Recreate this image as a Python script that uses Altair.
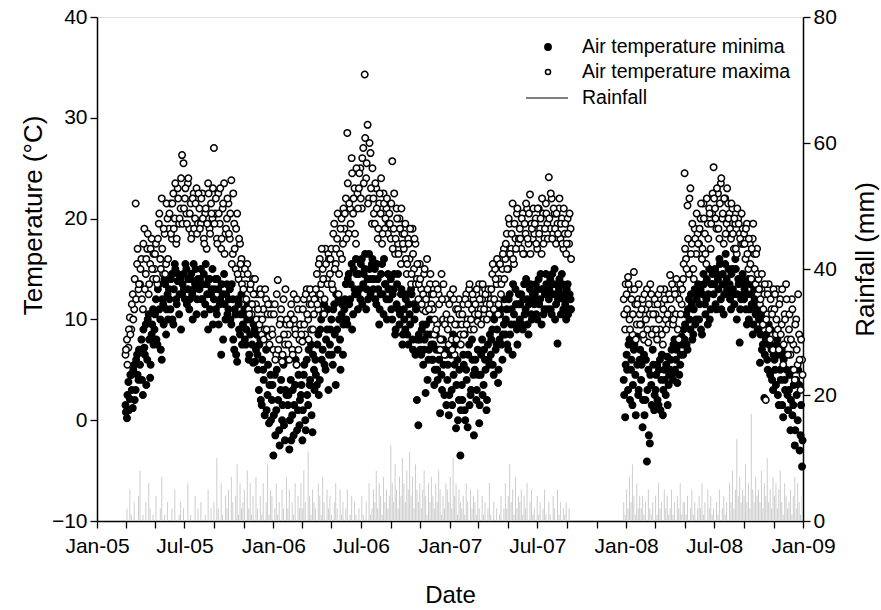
import altair as alt
import pandas as pd

# ---------------- data ----------------
# two interleaved 3-day grids per period
start_a = "2005-03-01"
start_a2 = "2005-03-02"
start_b = "2007-12-27"
start_b2 = "2007-12-28"

tmin_a = [
    1.5, 0.2, 3.8, 2.1, 4.5, 1.2, 5.5, 3.0, 6.5, 4.0,                 # Mar-05
    5.5, 8.0, 2.5, 7.2, 9.5, 6.0, 10.5, 4.2, 8.5, 11.0,               # Apr-05
    9.0, 12.0, 7.5, 13.5, 10.0, 6.0, 11.5, 14.0, 8.5, 12.5,           # May-05
    13.0, 11.0, 14.5, 9.5, 15.5, 12.0, 13.8, 10.5, 14.0, 12.5,        # Jun-05
    14.5, 12.0, 15.0, 13.0, 11.0, 14.0, 12.5, 15.5, 13.5, 10.5, 14.0, # Jul-05
    13.0, 15.0, 12.0, 14.5, 11.5, 13.5, 9.0, 14.0, 12.5, 15.0,        # Aug-05
    12.0, 14.0, 10.5, 13.0, 11.5, 6.5, 12.5, 14.5, 10.0, 13.5,        # Sep-05
    11.0, 13.0, 9.5, 12.0, 7.0, 10.5, 5.8, 11.5, 8.5, 12.5,           # Oct-05
    9.5, 11.0, 7.5, 10.0, 6.0, 8.5, 11.5, 5.7, 9.0, 7.0,              # Nov-05
    6.5, 3.0, 8.0, 1.5, 5.0, 0.5, 7.0, 2.5, -0.3, 4.5,                # Dec-05
    2.0, -3.5, 4.5, 1.0, 6.5, -1.0, 3.0, 0.0, 5.5, -2.0, 2.5,         # Jan-06
    1.5, -2.9, 4.0, 0.5, -1.5, 3.5, 5.5, 1.0, -0.5,                   # Feb-06
    2.5, -2.0, 4.5, 0.0, 6.0, 1.5, 3.5, 7.5, -1.2, 5.0,               # Mar-06
    6.0, 3.5, 8.5, 4.0, 10.0, 7.0, 11.5, 5.0, 9.0, 3.0,               # Apr-06
    7.5, 10.0, 5.5, 11.5, 3.5, 9.0, 12.0, 8.0, 10.5, 6.5,             # May-06
    11.0, 13.5, 9.5, 14.5, 12.0, 15.5, 10.5, 13.0, 16.0, 12.5,        # Jun-06
    14.5, 12.0, 16.0, 13.5, 15.0, 11.0, 14.0, 16.5, 12.5, 15.5,       # Jul-06
    13.0, 15.0, 11.5, 14.0, 9.5, 12.5, 15.5, 10.5, 13.5, 12.0, 14.5,  # Aug-06
    12.0, 14.0, 10.0, 13.0, 8.5, 11.5, 14.5, 9.5, 12.5, 7.5,          # Sep-06
    11.0, 9.0, 12.5, 7.5, 10.5, 13.0, 8.0, 11.5, 6.5, 2.0,            # Oct-06
    -0.5, 8.0, 6.5, 9.5, 7.0, 2.7, 8.5, 6.0, 10.0, 7.5,               # Nov-06
    6.0, 3.5, 8.5, 5.0, 7.0, 0.7, 4.5, 8.0, 2.5, 6.5,                 # Dec-06
    4.0, 0.5, 7.0, 3.0, 8.5, 5.5, -0.8, 6.0, 2.0, -3.5,               # Jan-07
    3.5, 6.5, 1.0, 5.0, -0.7, 7.5, 2.5, 8.0, 4.5,                     # Feb-07
    5.0, 2.0, 7.0, -0.3, 4.5, 8.0, 3.5, 6.0, 1.0, 7.5, 5.5,           # Mar-07
    6.5, 9.0, 4.5, 10.5, 7.5, 3.7, 8.0, 11.0, 6.0, 9.5,               # Apr-07
    8.5, 11.0, 7.0, 12.5, 9.5, 6.5, 10.5, 13.0, 9.0, 11.5,            # May-07
    10.0, 12.5, 9.0, 13.5, 11.0, 12.0, 8.5, 13.0, 10.5, 12.5,         # Jun-07
    11.5, 13.5, 10.0, 14.0, 12.0, 9.5, 13.0, 11.0, 14.5, 12.5,        # Jul-07
    12.0, 14.0, 10.5, 13.5, 15.0, 11.5, 7.6, 13.0, 12.5, 14.5, 11.0,  # Aug-07
    12.5, 10.0, 13.5, 11.0, 12.0,                                     # Sep-07
]
tmin_a2 = [
    0.8, 2.5, 1.0, 4.5, 3.0, 5.0, 2.0, 6.0, 4.5, 7.0,
    7.0, 4.0, 9.0, 6.5, 3.5, 10.0, 8.0, 5.5, 9.5, 7.5,
    10.5, 8.0, 13.0, 11.0, 7.0, 12.0, 9.5, 13.5, 11.0, 10.0,
    12.0, 14.0, 10.0, 13.0, 15.0, 11.5, 14.5, 12.5, 9.0, 13.5,
    13.0, 15.5, 11.5, 14.0, 12.0, 14.5, 10.0, 13.0, 15.0, 12.0, 13.5,
    14.0, 12.0, 13.5, 10.5, 15.5, 12.5, 14.0, 11.0, 13.0, 9.5,
    13.0, 11.0, 14.0, 9.5, 12.0, 13.5, 8.0, 11.5, 12.5, 10.5,
    12.0, 10.0, 13.5, 8.0, 11.0, 6.5, 12.0, 9.0, 10.5, 7.5,
    10.5, 8.0, 9.0, 11.5, 6.5, 10.0, 7.5, 9.5, 5.8, 8.5,
    5.0, 7.5, 2.0, 6.0, 4.0, 8.5, 1.0, 5.5, 3.5, 0.0,
    3.5, 0.5, -1.5, 5.0, 2.0, -2.5, 4.0, 1.5, -0.5, 3.0, 6.0,
    2.5, 0.0, -2.0, 3.0, 1.5, 6.0, -1.0, 4.5, 2.0,
    3.5, 1.0, 5.5, -1.0, 2.5, 7.0, 4.0, 0.5, 6.5, 3.0,
    4.5, 7.5, 2.5, 9.0, 6.0, 10.5, 5.5, 8.0, 11.0, 6.5,
    9.0, 6.5, 11.0, 8.5, 12.5, 7.0, 10.0, 5.0, 11.5, 9.5,
    12.0, 10.0, 14.0, 11.5, 13.5, 9.0, 15.0, 12.5, 14.5, 11.0,
    13.0, 15.5, 11.5, 14.5, 16.5, 13.0, 12.0, 15.0, 14.0, 16.0,
    14.0, 12.0, 15.5, 13.0, 11.0, 14.5, 12.5, 16.0, 13.5, 10.0, 13.0,
    13.0, 11.0, 12.5, 14.5, 9.0, 13.5, 11.0, 10.5, 13.0, 8.5,
    10.0, 12.0, 8.5, 11.5, 9.5, 12.5, 7.0, 10.0, 11.0, 8.0,
    8.5, 7.0, 9.0, 5.5, 8.0, 9.5, 4.0, 7.0, 8.5, 6.0,
    7.5, 5.0, 7.0, 4.0, 6.0, 8.0, 3.0, 5.5, 7.0, 1.5,
    5.5, 2.5, 6.5, 1.5, 4.5, 7.5, 3.5, 0.0, 5.0, 1.0,
    2.0, 5.5, 0.0, 4.0, 6.5, 1.5, 3.0, 6.0, -1.5,
    6.0, 3.0, 4.5, 1.5, 6.5, 2.5, 7.0, 5.0, 2.0, 6.0, 8.5,
    8.0, 5.5, 10.0, 7.0, 9.0, 5.0, 10.5, 7.5, 8.5, 12.0,
    10.0, 7.5, 12.0, 8.5, 11.0, 13.5, 9.5, 11.5, 7.5, 12.5,
    11.5, 9.5, 12.0, 10.5, 14.0, 9.5, 11.5, 13.5, 10.0, 12.0,
    12.5, 10.5, 13.0, 11.5, 14.5, 13.0, 10.5, 12.5, 13.5, 11.0,
    13.0, 11.0, 14.5, 12.5, 10.0, 13.5, 12.0, 14.0, 10.5, 13.5, 12.0,
    11.5, 13.0, 10.5, 12.5, 11.0,
]
tmax_a = [
    6.5, 8.0, 7.2, 10.2, 9.0, 12.5, 11.0, 21.5, 15.5, 13.0,
    13.5, 16.0, 11.0, 19.0, 14.5, 17.0, 12.5, 15.5, 18.0, 14.0,
    15.0, 17.5, 13.5, 19.5, 16.0, 22.0, 14.5, 18.5, 15.5, 20.0,
    19.0, 21.5, 18.0, 22.5, 20.0, 17.5, 23.0, 19.5, 21.0, 26.3,
    25.5, 22.0, 20.5, 23.5, 19.0, 21.5, 18.5, 22.5, 20.0, 23.0, 19.5,
    21.0, 19.5, 22.5, 18.0, 20.5, 17.0, 23.5, 19.0, 21.5, 20.0,
    27.0, 20.5, 18.0, 22.5, 19.5, 17.0, 21.0, 23.5, 18.5, 20.0,
    21.5, 18.0, 23.8, 16.5, 19.5, 15.0, 20.5, 14.0, 17.5, 16.0,
    14.5, 12.0, 13.5, 15.5, 11.0, 13.0, 10.5, 14.0, 12.5, 11.5,
    12.5, 10.0, 13.0, 8.5, 11.0, 9.0, 12.0, 10.5, 8.3, 11.5,
    9.0, 7.0, 11.5, 6.5, 13.9, 8.0, 10.0, 5.8, 12.0, 7.5, 9.5,
    8.5, 6.0, 10.5, 7.0, 12.5, 9.0, 5.5, 11.0, 8.0,
    9.5, 7.8, 12.0, 8.5, 13.0, 10.0, 11.5, 9.0, 12.5, 10.5,
    12.0, 14.5, 11.0, 16.0, 13.5, 15.0, 10.5, 17.0, 14.0, 16.5,
    14.5, 17.0, 13.0, 19.5, 15.5, 18.0, 12.5, 16.5, 20.0, 17.5,
    19.0, 22.0, 28.5, 18.5, 21.0, 26.0, 20.5, 23.0, 17.5, 22.5,
    23.0, 25.0, 21.0, 27.0, 34.3, 24.0, 29.3, 22.0, 26.5, 19.5,
    22.0, 19.5, 23.0, 18.0, 21.5, 20.5, 17.5, 22.5, 19.0, 21.0, 18.5,
    20.5, 18.0, 25.7, 19.0, 16.5, 21.0, 17.5, 20.0, 15.5, 18.5,
    17.0, 19.5, 14.5, 18.0, 16.0, 13.5, 19.0, 15.0, 17.5, 14.0,
    12.0, 15.5, 13.0, 11.0, 14.5, 10.8, 16.0, 12.5, 13.5, 11.5,
    11.0, 8.5, 13.5, 9.5, 12.5, 7.0, 14.5, 10.0, 6.5, 12.0,
    10.0, 7.5, 12.5, 8.0, 13.0, 6.5, 11.0, 9.5, 12.0, 8.5,
    9.5, 11.5, 8.5, 12.5, 10.0, 13.0, 9.0, 11.0, 12.0,
    10.5, 12.5, 9.8, 13.5, 11.0, 12.0, 10.0, 13.0, 11.5, 12.5, 10.5,
    12.0, 14.5, 11.0, 15.0, 13.5, 10.5, 14.0, 12.5, 15.0, 17.0,
    16.0, 18.5, 15.0, 19.5, 17.0, 21.5, 15.5, 18.0, 20.5, 17.5,
    19.0, 17.0, 20.5, 16.5, 18.5, 21.0, 17.5, 22.4, 19.5, 18.0,
    18.5, 20.0, 17.0, 21.0, 19.0, 16.5, 20.5, 18.0, 21.5, 19.5,
    24.1, 19.0, 22.0, 18.5, 20.5, 17.5, 19.5, 21.0, 18.0, 20.0, 17.0,
    18.5, 16.5, 20.0, 17.5, 19.0,
]
tmax_a2 = [
    7.0, 5.5, 9.0, 8.5, 11.5, 10.0, 14.0, 12.0, 17.0, 13.5,
    15.0, 12.0, 17.5, 13.0, 16.0, 18.5, 13.5, 17.0, 15.0, 16.5,
    16.5, 14.0, 18.0, 20.5, 15.0, 17.0, 19.0, 14.5, 21.5, 16.0,
    20.5, 18.5, 21.5, 19.0, 23.5, 18.0, 22.0, 20.0, 24.0, 19.5,
    21.0, 23.0, 19.5, 24.0, 20.5, 18.0, 22.0, 19.0, 21.5, 18.5, 22.5,
    19.0, 22.0, 20.0, 17.5, 21.0, 19.5, 22.5, 18.5, 20.5, 23.0,
    19.5, 22.0, 17.5, 20.5, 23.0, 18.0, 21.5, 16.5, 19.0, 22.0,
    18.5, 20.5, 15.5, 22.5, 17.0, 19.0, 14.5, 18.0, 15.5, 13.5,
    13.0, 15.0, 12.0, 14.5, 10.5, 13.5, 11.5, 12.5, 14.0, 10.0,
    11.0, 9.5, 12.5, 10.0, 8.0, 13.0, 9.0, 11.5, 7.5, 10.5,
    8.5, 10.5, 6.0, 12.5, 7.0, 9.5, 11.0, 6.5, 8.5, 13.0, 10.0,
    7.5, 9.5, 11.5, 6.5, 10.0, 8.5, 12.0, 7.0, 9.5,
    8.5, 11.0, 9.5, 12.5, 10.5, 8.0, 13.0, 11.5, 9.0, 12.0,
    13.0, 11.5, 15.5, 12.5, 17.0, 14.0, 12.0, 15.5, 13.5, 16.0,
    16.0, 13.5, 18.5, 15.0, 17.0, 20.5, 14.5, 19.0, 16.0, 21.0,
    20.5, 18.0, 23.5, 21.5, 19.5, 24.5, 22.0, 18.5, 25.0, 21.0,
    24.5, 22.0, 26.0, 23.5, 28.0, 25.5, 21.5, 27.5, 23.0, 25.0,
    20.5, 23.5, 21.0, 19.0, 22.5, 24.0, 18.5, 21.5, 20.0, 22.0, 19.5,
    19.5, 21.5, 17.0, 22.5, 18.0, 20.0, 16.5, 19.0, 21.0, 17.5,
    18.5, 16.0, 15.5, 17.5, 19.0, 14.5, 16.5, 18.0, 13.5, 15.5,
    13.5, 14.0, 11.5, 12.5, 15.0, 12.0, 13.0, 11.0, 14.5, 12.5,
    12.5, 10.0, 9.0, 13.0, 11.5, 8.0, 12.0, 13.5, 9.5, 10.5,
    9.0, 11.5, 10.0, 7.0, 12.0, 9.5, 8.0, 11.0, 10.5, 7.5,
    10.5, 8.5, 12.0, 9.5, 11.5, 13.5, 10.0, 12.5, 9.0,
    11.5, 13.0, 10.5, 12.0, 9.5, 13.5, 11.0, 12.5, 10.0, 13.0, 11.5,
    13.0, 15.5, 12.0, 14.0, 16.0, 11.5, 15.5, 13.5, 16.5, 14.0,
    17.5, 15.0, 20.0, 16.5, 18.5, 16.0, 19.5, 17.0, 21.0, 18.0,
    18.0, 20.0, 16.5, 19.5, 21.5, 18.0, 20.5, 16.5, 19.0, 21.0,
    19.5, 17.5, 21.0, 18.5, 20.0, 22.0, 17.5, 19.0, 20.5, 18.0,
    20.0, 22.5, 18.0, 21.0, 19.0, 20.5, 18.5, 22.0, 19.5, 17.5, 21.0,
    19.5, 17.5, 18.5, 20.5, 16.0,
]
rain_a = [
    0, 2, 0, 5, 1, 0, 3, 0, 0, 4,
    8, 0, 1, 0, 3, 0, 6, 2, 0, 1,
    0, 4, 0, 0, 2, 7, 0, 1, 0, 3,
    0, 0, 2, 0, 5, 0, 0, 1, 3, 0,
    2, 0, 0, 6, 0, 1, 0, 0, 4, 0, 2,
    0, 3, 0, 0, 1, 0, 5, 0, 2, 0,
    3, 0, 10, 2, 0, 6, 1, 0, 4, 2,
    5, 0, 7, 3, 0, 4, 9, 1, 6, 2,
    3, 5, 0, 8, 2, 6, 1, 4, 0, 7,
    2, 0, 4, 1, 6, 0, 3, 9, 1, 5,
    4, 0, 2, 6, 1, 3, 0, 5, 2, 0, 7,
    2, 5, 0, 3, 1, 6, 0, 4, 2,
    6, 2, 8, 3, 0, 11, 4, 1, 5, 3,
    2, 0, 6, 4, 1, 7, 3, 0, 5, 2,
    4, 1, 0, 3, 6, 2, 0, 5, 1, 3,
    0, 2, 5, 0, 1, 4, 0, 3, 1, 0,
    2, 0, 4, 1, 0, 3, 0, 6, 1, 2,
    5, 3, 8, 2, 6, 4, 1, 7, 3, 5, 2,
    4, 12, 6, 3, 9, 5, 2, 7, 4, 10,
    6, 3, 8, 5, 11, 4, 7, 2, 9, 5,
    3, 6, 2, 5, 8, 4, 1, 6, 3, 7,
    4, 2, 6, 3, 8, 5, 1, 4, 2, 6,
    5, 3, 7, 2, 10, 4, 6, 1, 5, 3,
    2, 4, 1, 6, 3, 0, 5, 2, 4,
    3, 1, 5, 2, 0, 4, 1, 3, 0, 2, 6,
    1, 0, 3, 0, 2, 0, 1, 4, 0, 2,
    6, 2, 4, 9, 3, 5, 1, 7, 2, 4,
    3, 5, 1, 4, 2, 6, 0, 3, 5, 1,
    2, 0, 4, 1, 3, 0, 2, 5, 1, 0,
    3, 1, 0, 4, 2, 0, 5, 1, 3, 0, 2,
    1, 3, 0, 2, 0,
]

tmin_b = [
    4.0, 0.3,                                                         # Dec-07
    6.5, 3.0, 8.0, 5.0, 1.5, 7.0, 4.5, 8.3, 2.5, 6.0,                 # Jan-08
    4.0, -0.7, 6.5, 2.0, -4.1, 5.0, -2.3, 3.5, 7.0, 1.0,              # Feb-08
    3.0, 5.5, 1.5, 6.0, 4.0, 0.5, 5.0, 2.5, 6.3, 3.5,                 # Mar-08
    5.0, 7.0, 4.0, 8.0, 6.0, 3.7, 7.5, 5.5, 8.3, 6.5,                 # Apr-08
    8.0, 10.5, 7.0, 12.0, 9.0, 11.5, 8.5, 13.0, 10.0, 12.5,           # May-08
    10.0, 13.0, 8.5, 14.5, 11.5, 12.0, 9.5, 15.0, 11.0, 13.5,         # Jun-08
    12.5, 15.0, 11.0, 14.0, 16.0, 12.0, 13.5, 10.5, 15.5, 14.0, 12.5, # Jul-08
    13.5, 11.0, 15.0, 12.5, 16.0, 10.0, 14.0, 7.7, 12.0, 14.5,        # Aug-08
    12.0, 13.5, 9.5, 14.0, 11.0, 12.5, 8.5, 13.0, 10.5, 11.5,         # Sep-08
    9.0, 5.7, 10.5, 7.5, 2.2, 8.0, 6.0, 9.5, 4.5, 7.0, 3.0,           # Oct-08
    6.0, 3.5, 8.0, 1.5, 5.0, 7.0, 0.3, 4.0, 6.5, 2.5,                 # Nov-08
    3.0, -1.0, 5.0, 1.5, -2.5, 4.0, 0.0, 3.5, -1.5, -4.6,             # Dec-08
]
tmin_b2 = [
    2.5, 5.5,
    5.0, 7.5, 2.0, 6.0, 3.5, 7.5, 0.5, 5.5, 3.0, 7.0,
    5.5, 2.0, 0.5, 6.0, 3.0, -1.5, 4.5, 1.5, 5.5, 2.5,
    4.5, 2.0, 5.0, 1.0, 6.5, 3.0, 4.0, 5.5, 1.5, 4.5,
    6.0, 4.5, 7.5, 5.0, 7.0, 8.0, 4.5, 6.5, 7.5, 9.0,
    9.5, 7.5, 11.0, 10.0, 12.5, 8.0, 11.0, 9.5, 12.0, 13.5,
    11.5, 9.0, 12.5, 13.5, 10.5, 14.0, 12.5, 10.0, 13.5, 14.5,
    13.5, 11.5, 14.5, 13.0, 15.5, 11.0, 14.5, 12.5, 16.5, 13.0, 15.0,
    12.0, 14.5, 13.0, 11.5, 15.0, 12.5, 13.5, 11.0, 14.0, 12.5,
    13.0, 11.0, 12.5, 10.0, 13.5, 11.5, 9.5, 12.0, 11.0, 9.0,
    10.0, 8.5, 7.0, 9.5, 6.5, 8.5, 5.0, 7.5, 9.0, 4.0, 6.5,
    5.0, 7.5, 2.5, 6.5, 4.0, 1.5, 6.0, 3.0, 5.0, 1.0,
    4.5, 2.0, 0.5, 3.5, -1.0, 2.5, 5.0, -3.0, 1.5, -2.0,
]
tmax_b = [
    12.0, 9.0,
    12.5, 14.2, 10.0, 13.0, 8.5, 14.7, 11.5, 9.5, 12.0, 10.5,
    9.5, 12.0, 8.0, 11.0, 13.0, 7.7, 10.5, 12.5, 9.0, 11.5,
    10.5, 8.0, 12.5, 9.0, 11.5, 7.5, 13.0, 10.0, 12.0, 9.5,
    14.4, 11.0, 9.5, 13.0, 10.5, 12.5, 8.0, 13.5, 11.5, 14.0,
    24.5, 16.0, 21.3, 14.5, 23.0, 17.5, 15.0, 19.0, 16.5, 18.5,
    17.5, 20.0, 16.0, 21.5, 18.5, 15.5, 19.5, 21.0, 17.0, 20.5,
    25.1, 21.0, 19.0, 22.5, 18.0, 23.5, 20.0, 17.5, 22.0, 19.5, 21.5,
    20.5, 18.0, 21.0, 17.0, 19.5, 16.5, 20.0, 18.5, 17.5, 19.0,
    18.5, 16.0, 19.5, 15.0, 17.5, 14.0, 18.0, 16.5, 13.5, 17.0,
    14.0, 11.5, 13.0, 9.5, 12.5, 2.0, 10.5, 13.5, 8.0, 11.0, 7.0,
    11.0, 8.5, 13.0, 7.0, 12.0, 9.5, 5.5, 10.5, 13.5, 8.0,
    9.0, 6.5, 12.0, 7.5, 4.0, 10.0, 5.5, 8.5, 3.0, 6.0,
]
tmax_b2 = [
    10.5, 13.5,
    11.0, 13.5, 9.0, 12.0, 10.5, 13.0, 8.0, 11.5, 13.5, 9.5,
    11.0, 8.5, 12.5, 10.0, 9.0, 11.5, 13.5, 8.5, 10.5, 12.0,
    9.0, 11.5, 10.0, 13.0, 8.5, 11.0, 12.0, 9.0, 10.5, 12.5,
    12.0, 13.5, 10.0, 12.5, 14.0, 9.0, 12.0, 10.5, 13.0, 15.5,
    17.0, 15.0, 18.0, 22.0, 16.5, 19.5, 14.0, 18.0, 20.5, 17.5,
    19.0, 21.5, 17.0, 20.0, 16.5, 22.0, 18.0, 20.5, 19.5, 22.5,
    22.0, 20.0, 23.0, 19.0, 21.5, 24.0, 20.5, 22.0, 18.5, 23.0, 20.0,
    19.0, 21.5, 18.5, 20.0, 17.0, 21.0, 19.5, 18.0, 20.5, 17.5,
    17.5, 19.0, 16.5, 18.0, 15.5, 17.0, 19.5, 15.0, 16.5, 14.5,
    13.0, 12.0, 14.5, 11.0, 13.5, 10.0, 12.5, 9.0, 12.0, 10.5, 13.0,
    12.5, 10.0, 9.0, 11.5, 8.5, 13.0, 7.5, 10.0, 12.0, 6.5,
    10.5, 8.0, 11.0, 5.0, 9.5, 7.0, 12.5, 6.0, 8.0, 4.5,
]
rain_b = [
    3, 1,
    5, 2, 7, 3, 9, 4, 1, 6, 2, 4,
    2, 4, 1, 3, 0, 5, 2, 1, 3, 0,
    4, 1, 6, 2, 3, 0, 5, 2, 4, 1,
    2, 5, 1, 3, 0, 4, 2, 6, 1, 3,
    3, 1, 4, 0, 2, 5, 1, 3, 0, 2,
    4, 2, 6, 1, 3, 0, 5, 2, 4, 1,
    2, 0, 3, 1, 5, 0, 2, 4, 1, 3, 0,
    6, 3, 8, 2, 5, 13, 4, 7, 3, 5,
    4, 9, 3, 6, 2, 17, 5, 3, 7, 4,
    5, 3, 8, 2, 6, 4, 10, 3, 5, 2, 7,
    4, 6, 2, 5, 8, 3, 1, 6, 4, 2,
    3, 5, 1, 4, 7, 2, 6, 3, 1, 4,
]

legend_labels = ["Air temperature minima", "Air temperature maxima", "Rainfall"]

# ---------------- tables ----------------
def grid(start, n):
    return pd.date_range(start, periods=n, freq="3D").strftime("%Y-%m-%d").tolist()

assert len(tmin_a) == len(tmax_a) == len(rain_a) == len(tmin_a2) == len(tmax_a2)
assert len(tmin_b) == len(tmax_b) == len(rain_b) == len(tmin_b2) == len(tmax_b2)
d1 = grid(start_a, len(tmin_a)) + grid(start_b, len(tmin_b))
d2 = grid(start_a2, len(tmin_a2)) + grid(start_b2, len(tmin_b2))
tmin1 = tmin_a + tmin_b
tmin2 = tmin_a2 + tmin_b2
tmax1 = tmax_a + tmax_b
tmax2 = tmax_a2 + tmax_b2
rain = rain_a + rain_b

temp_df = pd.DataFrame({
    "date": d1 + d2 + d1 + d2,
    "temp": tmin1 + tmin2 + tmax1 + tmax2,
    "series": ["min"] * (len(d1) + len(d2)) + ["max"] * (len(d1) + len(d2)),
})
rain_df = pd.DataFrame({"date": d1, "rain": rain})

FONT = "Liberation Sans"
tick_vals = [alt.DateTime(year=y, month=m, date=1)
             for y in range(2005, 2009) for m in (1, 3, 5, 7, 9, 11)]
tick_vals.append(alt.DateTime(year=2009, month=1, date=1))

common_axis = dict(grid=False, tickSize=7, labelFontSize=21, titleFontSize=26,
                   labelFont=FONT, titleFont=FONT, titleFontWeight="normal",
                   domainColor="black", tickColor="black", labelColor="black",
                   titleColor="black", domainWidth=1.5, tickWidth=1.3)

x_enc = alt.X(
    "date:T",
    scale=alt.Scale(domain=[alt.DateTime(year=2005, month=1, date=1),
                            alt.DateTime(year=2009, month=1, date=1)]),
    axis=alt.Axis(
        values=tick_vals,
        labelExpr="month(datum.value) % 6 == 0 ? timeFormat(datum.value, '%b-%y') : ''",
        title="Date", labelPadding=7, titleX=353, titleY=74, titleBaseline="middle",
        labelFlush=False, **{**common_axis, "titleFontSize": 24},
    ),
)

rain_layer = alt.Chart(rain_df).mark_rule(color="#cdcdcd", strokeWidth=1).encode(
    x=x_enc,
    y=alt.Y("rain:Q", scale=alt.Scale(domain=[0, 80], nice=False),
            axis=alt.Axis(orient="right", values=[0, 20, 40, 60, 80], title="Rainfall (mm)",
                          labelPadding=3, titleAngle=270, titleX=62, titleY=242,
                          titleBaseline="middle", titleAlign="center", **common_axis)),
    y2=alt.datum(0),
)

temp_layer = alt.Chart(temp_df).mark_point(
    shape="circle", filled=True, stroke="black", strokeWidth=1.5, size=42, opacity=1
).encode(
    x=x_enc,
    y=alt.Y("temp:Q", scale=alt.Scale(domain=[-10, 40], nice=False),
            axis=alt.Axis(orient="left", values=[-10, 0, 10, 20, 30, 40],
                          title="Temperature (°C)", labelPadding=3,
                          titleAngle=270, titleX=-64, titleY=198,
                          titleBaseline="middle", titleAlign="center", **common_axis)),
    fill=alt.Fill("series:N", scale=alt.Scale(domain=["min", "max"], range=["black", "white"]),
                  legend=None),
)

one = pd.DataFrame({"label": legend_labels})

def leg_text(i, ypx):
    return alt.Chart(one).transform_filter(
        alt.datum.label == legend_labels[i]
    ).mark_text(align="left", baseline="middle", fontSize=19.5, font=FONT, color="black").encode(
        x=alt.value(485), y=alt.value(ypx), text="label:N")

leg_min = alt.Chart(one.head(1)).mark_point(
    shape="circle", filled=True, fill="black", stroke="black", size=34, opacity=1
).encode(x=alt.value(451), y=alt.value(30))
leg_max = alt.Chart(one.head(1)).mark_point(
    shape="circle", filled=True, fill="white", stroke="black", strokeWidth=1.5, size=26, opacity=1
).encode(x=alt.value(451), y=alt.value(55))
leg_rain = alt.Chart(one.head(1)).mark_rule(color="black", strokeWidth=1.2).encode(
    x=alt.value(429), x2=alt.value(471), y=alt.value(81))

chart = alt.layer(
    rain_layer, temp_layer, leg_min, leg_max, leg_rain,
    leg_text(0, 30), leg_text(1, 55), leg_text(2, 81),
).resolve_scale(y="independent").properties(
    width=706, height=504,
    autosize=alt.AutoSizeParams(type="none"),
    padding={"left": 97, "top": 17, "right": 78, "bottom": 89},
).configure_view(stroke="black", strokeWidth=1.5).configure(background="white")

chart.save("out.html", embed_options={"renderer": "svg", "actions": False})
